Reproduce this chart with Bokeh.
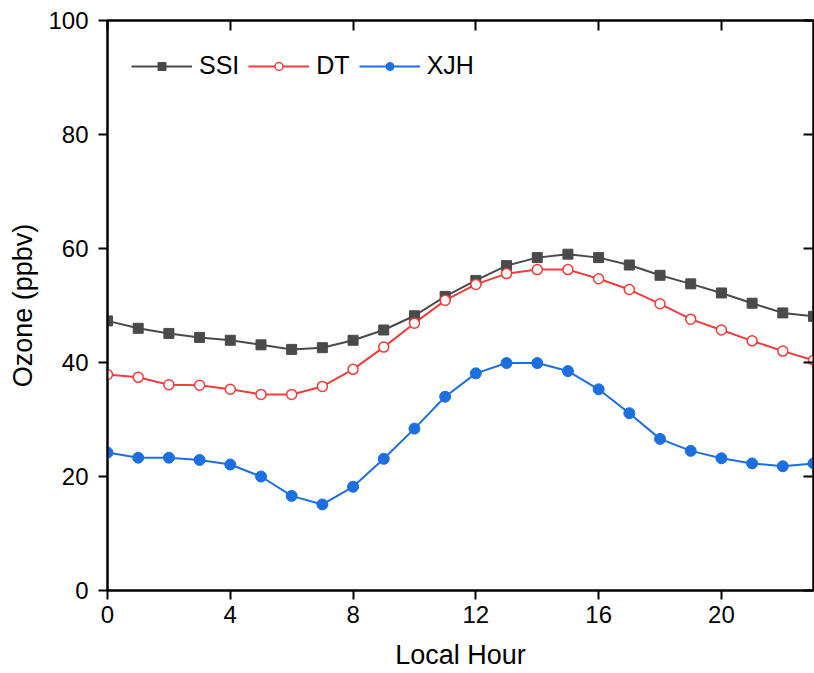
from bokeh.plotting import figure
from bokeh.models import Range1d, LinearAxis, FixedTicker, Legend, LegendItem
from bokeh.embed import file_html
from bokeh.resources import INLINE

hours = list(range(24))
ssi = [47.3, 46.0, 45.1, 44.4, 43.9, 43.1, 42.3, 42.6, 43.9, 45.7, 48.2, 51.6,
       54.4, 57.0, 58.4, 59.0, 58.4, 57.1, 55.3, 53.8, 52.2, 50.4, 48.7, 48.1]
dt = [37.9, 37.4, 36.1, 36.0, 35.3, 34.4, 34.4, 35.8, 38.8, 42.7, 46.9, 50.9,
      53.7, 55.6, 56.3, 56.3, 54.7, 52.8, 50.3, 47.6, 45.7, 43.8, 42.0, 40.4]
xjh = [24.2, 23.3, 23.3, 22.9, 22.1, 20.0, 16.6, 15.1, 18.2, 23.1, 28.4, 34.0,
       38.1, 39.9, 39.9, 38.5, 35.3, 31.1, 26.6, 24.5, 23.2, 22.3, 21.8, 22.3]
x_ticks = [0, 4, 8, 12, 16, 20]
y_ticks = [0, 20, 40, 60, 80, 100]

FONT = "Liberation Sans"
C_SSI = "#4a4a4a"
C_DT = "#f03c3c"
C_XJH = "#1c6fe0"

p = figure(width=814, height=673, output_backend="svg", toolbar_location=None,
           x_range=Range1d(0, 23), y_range=Range1d(0, 100),
           min_border_left=107, min_border_top=20, min_border_right=1, min_border_bottom=83)
p.grid.visible = False
p.outline_line_color = "black"
p.outline_line_width = 2
p.background_fill_color = "white"
p.border_fill_color = "white"

for ax in (p.xaxis[0], p.yaxis[0]):
    ax.axis_line_width = 2
    ax.major_tick_line_width = 2
    ax.major_tick_out = 9
    ax.major_tick_in = 0
    ax.minor_tick_line_color = None
    ax.major_label_text_font = FONT
    ax.major_label_text_font_size = "24px"
    ax.major_label_text_color = "black"
    ax.axis_label_text_font = FONT
    ax.axis_label_text_font_size = "27px"
    ax.axis_label_text_font_style = "normal"
    ax.axis_label_text_color = "black"

p.xaxis[0].ticker = FixedTicker(ticks=x_ticks)
p.yaxis[0].ticker = FixedTicker(ticks=y_ticks)
p.xaxis[0].axis_label = "Local Hour"
p.yaxis[0].axis_label = "Ozone (ppbv)"
p.xaxis[0].major_label_standoff = 6
p.yaxis[0].major_label_standoff = 10
p.xaxis[0].axis_label_standoff = 14
p.yaxis[0].axis_label_standoff = 7

top = LinearAxis(ticker=FixedTicker(ticks=x_ticks), major_label_text_color=None,
                 major_label_text_font_size="1px",
                 major_tick_in=10, major_tick_out=0, major_tick_line_width=2,
                 axis_line_width=2, minor_tick_line_color=None, major_label_standoff=0)
right = LinearAxis(ticker=FixedTicker(ticks=y_ticks), major_label_text_color=None,
                   major_label_text_font_size="1px",
                   major_tick_in=10, major_tick_out=0, major_tick_line_width=2,
                   axis_line_width=2, minor_tick_line_color=None, major_label_standoff=0)
p.add_layout(top, "above")
p.add_layout(right, "right")

l1 = p.line(hours, ssi, line_color=C_SSI, line_width=2)
m1 = p.scatter(hours, ssi, marker="square", size=10, fill_color=C_SSI, line_color=C_SSI)
l2 = p.line(hours, dt, line_color=C_DT, line_width=2)
m2 = p.scatter(hours, dt, marker="circle", size=10, fill_color="white", line_color=C_DT, line_width=1.5)
l3 = p.line(hours, xjh, line_color=C_XJH, line_width=2)
m3 = p.scatter(hours, xjh, marker="circle", size=11, fill_color=C_XJH, line_color=C_XJH)

legend = Legend(items=[LegendItem(label="SSI", renderers=[l1, m1]),
                       LegendItem(label="DT", renderers=[l2, m2]),
                       LegendItem(label="XJH", renderers=[l3, m3])],
                orientation="horizontal", location=(24, 510),
                glyph_width=61, glyph_height=20, label_standoff=7, spacing=9,
                padding=0, margin=0, border_line_color=None,
                background_fill_alpha=0,
                label_text_font=FONT, label_text_font_size="25px",
                label_text_color="black")
p.add_layout(legend, "center")

open("out.html", "w").write(file_html(p, INLINE))
